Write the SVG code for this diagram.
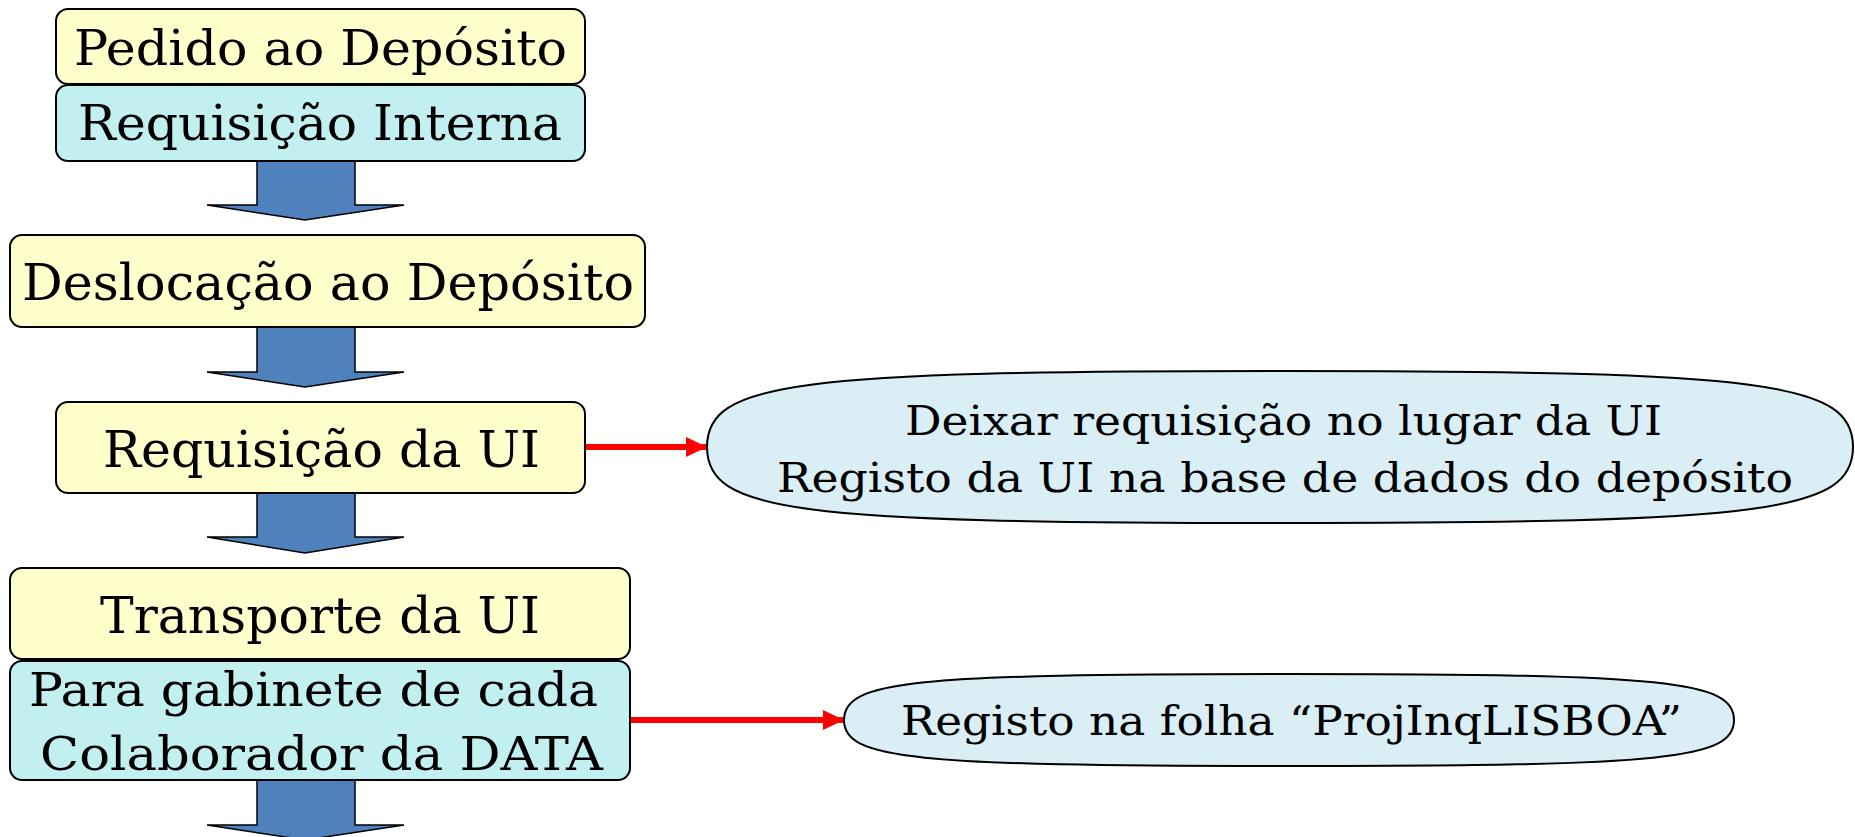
<svg xmlns="http://www.w3.org/2000/svg" width="1855" height="837" viewBox="0 0 1855 837">
<style>
.y{fill:#FFFFCC;stroke:#000;stroke-width:2}
.c{fill:#C2EFEF;stroke:#000;stroke-width:2}
.e{fill:#DAEEF6;stroke:#000;stroke-width:2}
.b{fill:#4F81BD;stroke:#000;stroke-width:1.5}
.r{stroke:#FF0000;stroke-width:6;fill:none}
text{font-family:"DejaVu Serif","Liberation Serif",serif;fill:#000;text-anchor:middle}
.t50{font-size:50px}
.t48{font-size:48px}
.t46{font-size:46px}
.t41{font-size:41px}
</style>
<defs>
<marker id="ah" markerUnits="userSpaceOnUse" markerWidth="22" markerHeight="22" refX="21" refY="10" orient="auto">
<path d="M0,0 L21,10 L0,20 Z" fill="#FF0000"/>
</marker>
</defs>
<rect width="1855" height="837" fill="#fff"/>
<g id="connectors">
<polygon class="b" points="257,161 355,161 355,205 404,205 305,220 207,205 257,205"/>
<polygon class="b" points="257,327 355,327 355,372 404,372 305,387 207,372 257,372"/>
<polygon class="b" points="257,493 355,493 355,537 404,537 305,553 207,537 257,537"/>
<polygon class="b" points="257,780 355,780 355,825 404,825 305,840 207,825 257,825"/>
<line class="r" x1="586" y1="447" x2="707" y2="447" marker-end="url(#ah)"/>
<line class="r" x1="631" y1="720" x2="844" y2="720" marker-end="url(#ah)"/>
</g>
<g id="n1">
<rect class="y" x="56" y="9" width="529" height="75" rx="12"/>
<text class="t48" x="320.5" y="65" textLength="493" lengthAdjust="spacingAndGlyphs">Pedido ao Depósito</text>
</g>
<g id="n2">
<rect class="c" x="56" y="85" width="529" height="76" rx="12"/>
<text class="t48" x="320" y="140" textLength="484" lengthAdjust="spacingAndGlyphs">Requisição Interna</text>
</g>
<g id="n3">
<rect class="y" x="10" y="235" width="635" height="92" rx="12"/>
<text class="t50" x="328" y="300" textLength="612" lengthAdjust="spacingAndGlyphs">Deslocação ao Depósito</text>
</g>
<g id="n4">
<rect class="y" x="56" y="402" width="529" height="91" rx="12"/>
<text class="t50" x="321.5" y="467" textLength="437" lengthAdjust="spacingAndGlyphs">Requisição da UI</text>
</g>
<g id="n5">
<rect class="y" x="10" y="568" width="620" height="91" rx="12"/>
<text class="t50" x="320" y="633" textLength="440" lengthAdjust="spacingAndGlyphs">Transporte da UI</text>
</g>
<g id="n6">
<rect class="c" x="10" y="661" width="620" height="119" rx="12"/>
<text class="t46" x="313.5" y="706" textLength="569" lengthAdjust="spacingAndGlyphs">Para gabinete de cada</text>
<text class="t46" x="321.5" y="770" textLength="563" lengthAdjust="spacingAndGlyphs">Colaborador da DATA</text>
</g>
<g id="n7">
<path class="e" d="M707,447 C707,382.4 793,371 1280,371 C1767,371 1853,382.4 1853,447 C1853,511.6 1767,523 1280,523 C793,523 707,511.6 707,447 Z"/>
<text class="t41" x="1283.5" y="435" textLength="757" lengthAdjust="spacingAndGlyphs">Deixar requisição no lugar da UI</text>
<text class="t41" x="1285" y="492" textLength="1016" lengthAdjust="spacingAndGlyphs">Registo da UI na base de dados do depósito</text>
</g>
<g id="n8">
<path class="e" d="M844,720 C844,680.9 911,674 1289,674 C1667,674 1734,680.9 1734,720 C1734,759.1 1667,766 1289,766 C911,766 844,759.1 844,720 Z"/>
<text class="t41" x="1291.5" y="735" textLength="781" lengthAdjust="spacingAndGlyphs">Registo na folha “ProjInqLISBOA”</text>
</g>
</svg>
